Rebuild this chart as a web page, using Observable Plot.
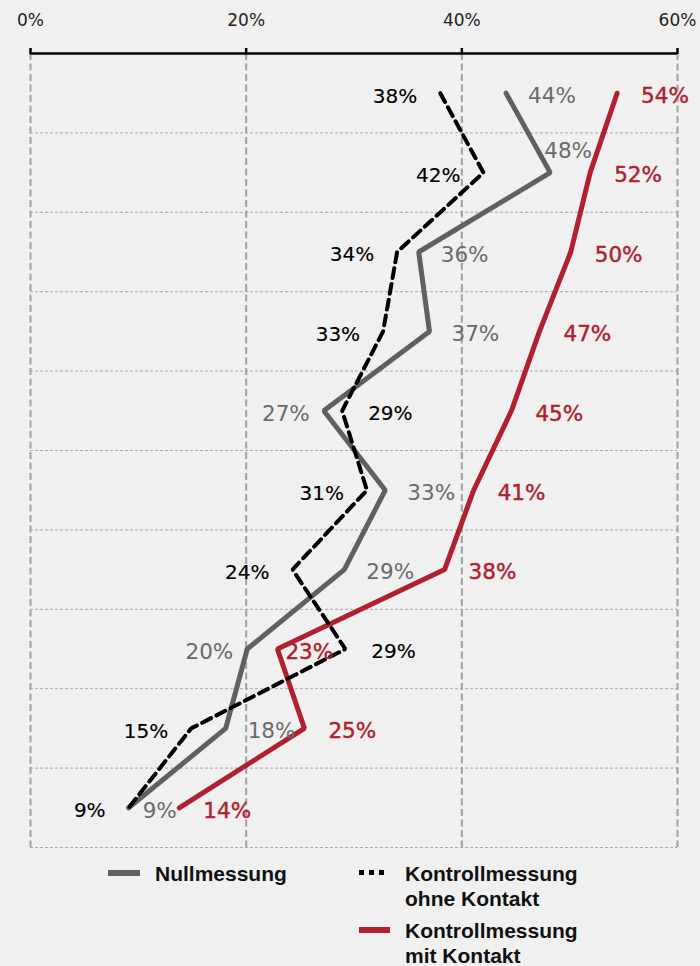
<!DOCTYPE html>
<html><head><meta charset="utf-8">
<script src="https://cdn.jsdelivr.net/npm/d3@7"></script>
<script src="https://cdn.jsdelivr.net/npm/@observablehq/plot@0.6"></script>
<style>
html,body{margin:0;padding:0;background:#f0f0f0;}
#wrap{position:relative;width:700px;height:966px;overflow:hidden;}
#wrap svg{position:absolute;left:0;top:0;}
.leg{position:absolute;font-family:"Liberation Sans",Arial,sans-serif;font-weight:bold;font-size:21px;line-height:25px;color:#111;white-space:nowrap;}
.sw{position:absolute;}
</style></head><body><div id="wrap"></div>
<script>
// rows (top to bottom)
const rows = [1,2,3,4,5,6,7,8,9,10];
// series values in %
const nullmessung = [44.1,48.2,36.0,37.0,27.2,32.9,29.1,20.1,18.1,9.1];
const ohneKontakt = [38.0,42.0,34.0,32.7,28.9,31.2,24.3,29.2,14.9,9.1];
const mitKontakt  = [54.4,51.9,50.1,47.2,44.6,41.1,38.4,22.9,25.4,13.8];
const xTicks = [0,20,40,60];
const seriesNames = ["Nullmessung","Kontrollmessung ohne Kontakt","Kontrollmessung mit Kontakt"];
// label side per point: r = right, l = left, a = above, n = near right
const nullSide = ["r","a","r","r","l","r","r","l","r","n"];
const ohneSide = ["l","l","l","l","r","l","l","r","l","l"];
const mitSide  = ["r","r","r","r","r","r","r","n","r","r"];

const toData = (vals, sides) => rows.map((r,i)=>({row:r, v:vals[i], side:sides[i]}));
const nullData = toData(nullmessung, nullSide);
const ohneData = toData(ohneKontakt, ohneSide);
const mitData  = toData(mitKontakt, mitSide);

const fmt = d => Math.round(d.v) + "%";

function labelMarks(data, placement, font){
  return Object.entries(placement).map(([side, p]) =>
    Plot.text(data.filter(d=>d.side===side), {
      x:"v", y:"row", text:fmt, dx:p.dx, dy:(p.dy||0)+3, textAnchor:p.anchor,
      ...font
    }));
}

const grayFont = {fill:"#6a6a6a", fontFamily:"DejaVu Sans, Verdana, sans-serif", fontSize:21.5};
const redFont  = {fill:"#b0202e", stroke:"#b0202e", strokeWidth:0.45, fontFamily:"DejaVu Sans, Verdana, sans-serif", fontSize:21.5};
const blackFont= {fill:"#000", stroke:"#000", strokeWidth:0.15, fontFamily:"DejaVu Sans, Verdana, sans-serif", fontSize:20};

const chart = Plot.plot({
  width:700, height:850,
  marginLeft:30, marginRight:23, marginTop:53, marginBottom:3,
  style:{background:"transparent", overflow:"visible"},
  x:{domain:[0,60], axis:null, label:null},
  y:{domain:[0.5,10.5], reverse:true, axis:null},
  marks:[
    Plot.ruleY(rows, {y:d=>d+0.5, stroke:"#a9a9a9", strokeWidth:1, strokeDasharray:"3,2"}),
    Plot.ruleX(xTicks, {stroke:"#a0a0a0", strokeWidth:2, strokeDasharray:"7,3.5"}),
    Plot.ruleY([0.5], {stroke:"#000", strokeWidth:2.5}),
    Plot.axisX({anchor:"top", ticks:xTicks, tickFormat:d=>d+"%", tickSize:6, tickPadding:22, label:null,
      stroke:"#000", strokeWidth:2.5, fill:"#222", fontFamily:"DejaVu Sans, Verdana, sans-serif", fontSize:17}),
    Plot.line(nullData, {x:"v", y:"row", stroke:"#606060", strokeWidth:5, strokeLinejoin:"miter", strokeLinecap:"round"}),
    Plot.line(mitData, {x:"v", y:"row", stroke:"#b0202e", strokeWidth:5, strokeLinejoin:"miter", strokeLinecap:"round"}),
    Plot.line(ohneData, {x:"v", y:"row", stroke:"#000", strokeWidth:4, strokeDasharray:"10,6", strokeLinejoin:"miter"}),
    ...labelMarks(nullData, {r:{dx:22, anchor:"start"}, l:{dx:-14, anchor:"end"}, a:{dx:-6, dy:-24, anchor:"start"}, n:{dx:14, anchor:"start"}}, grayFont),
    ...labelMarks(ohneData, {r:{dx:26, anchor:"start"}, l:{dx:-23, anchor:"end"}}, blackFont),
    ...labelMarks(mitData, {r:{dx:24, anchor:"start"}, n:{dx:8, anchor:"start"}}, redFont)
  ]
});
const wrap = document.getElementById("wrap");
wrap.appendChild(chart);

// legend
function addDiv(cls, style, html){
  const d = document.createElement("div"); d.className = cls;
  Object.assign(d.style, style); if (html) d.innerHTML = html; wrap.appendChild(d); return d;
}
addDiv("sw", {left:"108px", top:"870px", width:"32px", height:"6px", background:"#606060"});
addDiv("leg", {left:"155px", top:"861px"}, seriesNames[0]);
[359,369,379].forEach(x=>addDiv("sw", {left:x+"px", top:"870px", width:"5px", height:"5px", background:"#000"}));
addDiv("leg", {left:"405px", top:"861px"}, "Kontrollmessung<br>ohne Kontakt");
addDiv("sw", {left:"359px", top:"927px", width:"31px", height:"6px", background:"#b0202e"});
addDiv("leg", {left:"405px", top:"918px"}, "Kontrollmessung<br>mit Kontakt");
</script></body></html>
